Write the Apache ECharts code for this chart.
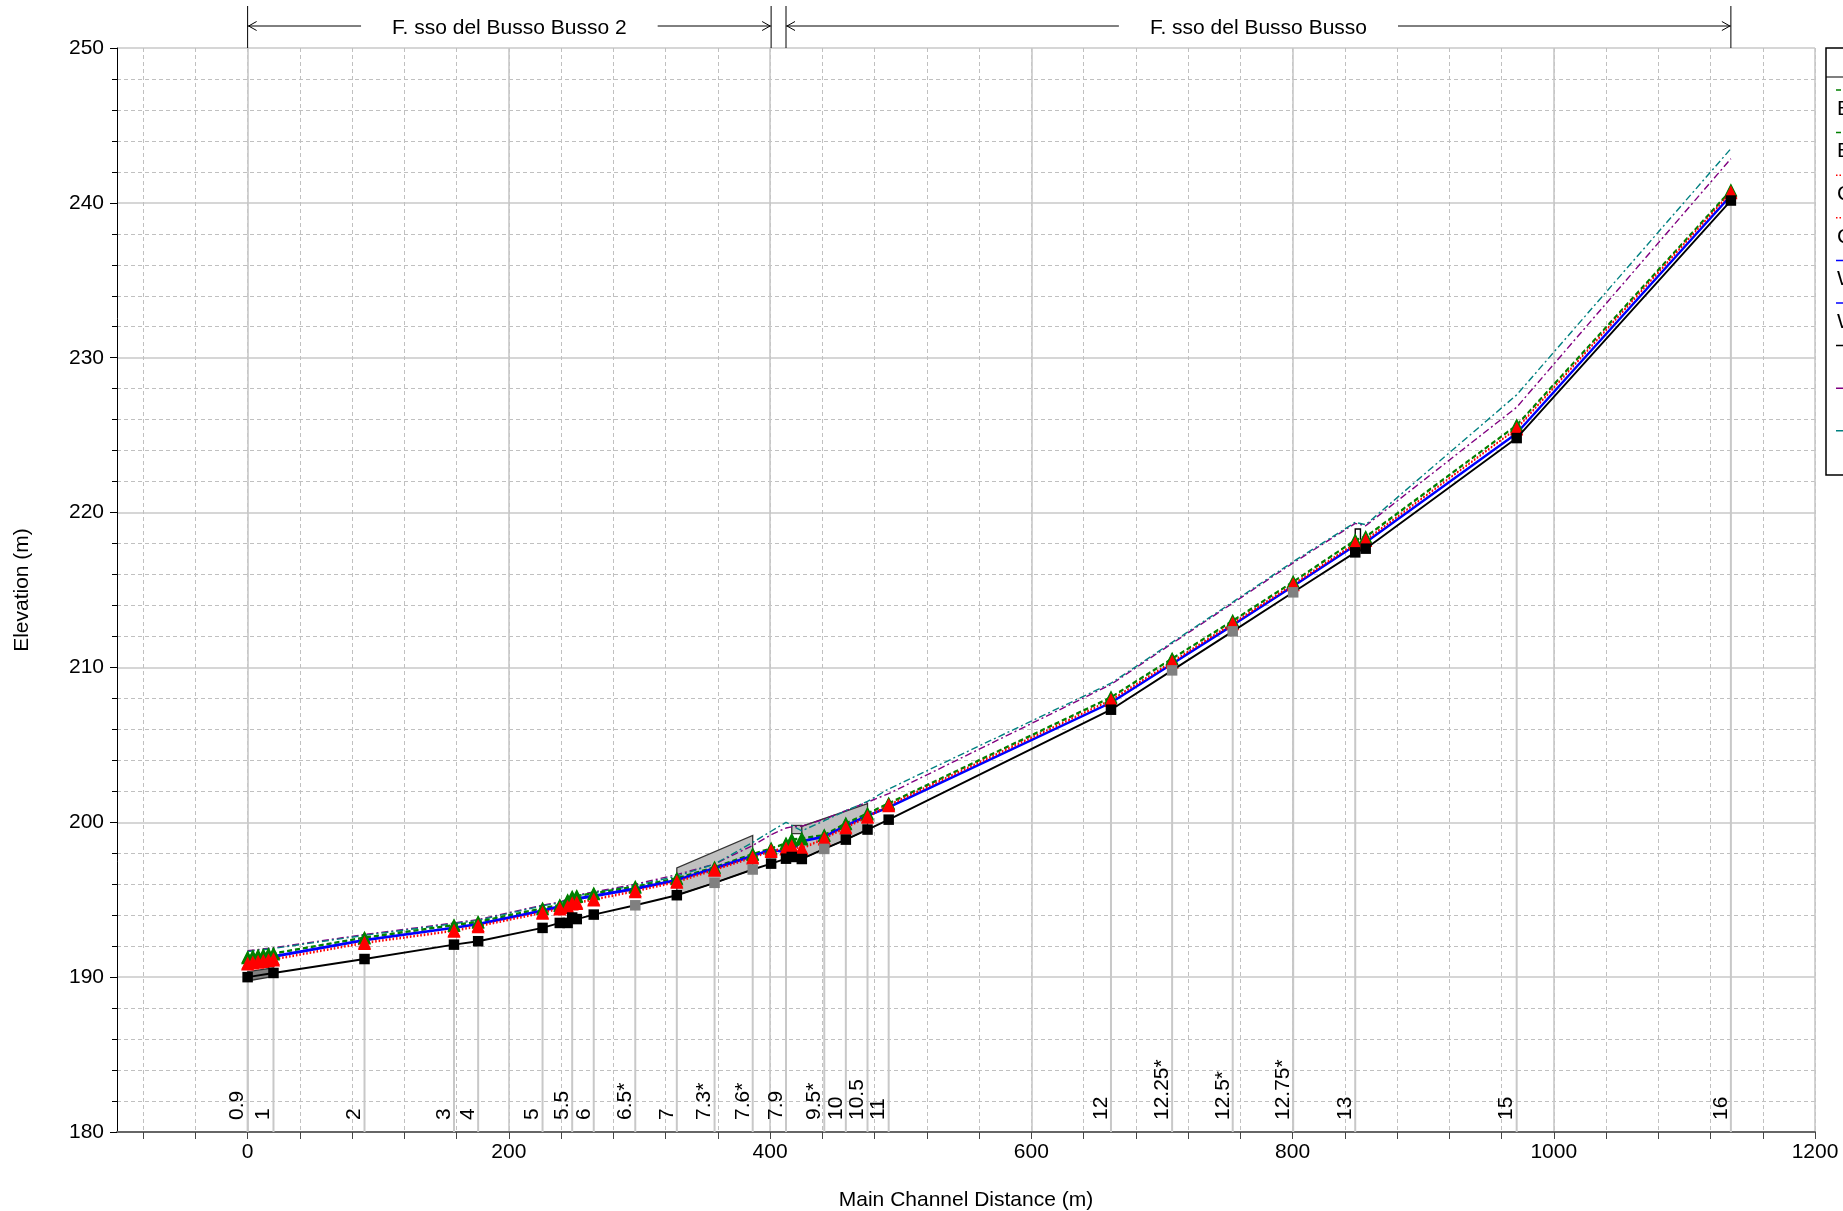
<!DOCTYPE html>
<html>
<head>
<meta charset="utf-8">
<title>Profilo longitudinale</title>
<script src="https://cdn.jsdelivr.net/npm/echarts@6/dist/echarts.min.js"></script>
<style>
  html, body { margin: 0; padding: 0; background: #ffffff; }
  #chart { width: 1843px; height: 1211px; }
</style>
</head>
<body>
<div id="chart"></div>
<script>
// ---- Axis ticks ----
const xMajorTicks = [0, 200, 400, 600, 800, 1000, 1200];
const xMinorTicks = [-80, -40, 0, 40, 80, 120, 160, 200, 240, 280, 320, 360, 400, 440, 480, 520, 560, 600,
  640, 680, 720, 760, 800, 840, 880, 920, 960, 1000, 1040, 1080, 1120, 1160, 1200];

// ---- River stations (main channel distance, m) ----
const stationDist = [0, 4, 8, 12, 16, 19.8, 89.5, 158, 176.5, 225.8, 239, 245, 248.5, 252, 265, 296.8,
  328.6, 357.5, 386.7, 400.8, 412.2, 416.6, 424.3, 441.5, 458, 474.6, 490.8, 661, 707.8, 754.2,
  800.5, 848, 856, 971.6, 1135.6];
const stationLabel = ['0.9', '', '', '', '', '1', '2', '3', '4', '5', '', '', '5.5', '', '6', '6.5*',
  '7', '7.3*', '7.6*', '', '7.9', '', '', '9.5*', '10', '10.5', '11', '12', '12.25*', '12.5*',
  '12.75*', '13', '', '15', '16'];

// ---- Elevations (m) ----
const groundElev = [190.0, null, null, null, null, 190.27, 191.17, 192.1, 192.32, 193.18, 193.5, 193.5,
  193.85, 193.75, 194.04, 194.64, 195.29, 196.09, 196.95, 197.33, 197.65, 197.76, 197.63, 198.28,
  198.88, 199.53, 200.17, 207.27, 209.81, 212.33, 214.85, 217.43, 217.67, 224.81, 240.15];
const egTr200 = [191.31, 191.38, 191.43, 191.47, 191.52, 191.56, 192.58, 193.39, 193.6, 194.47, 194.68,
  195.0, 195.22, 195.27, 195.44, 195.87, 196.41, 197.12, 197.98, 198.34, 198.67, 198.92, 198.99,
  199.2, 199.96, 200.6, 201.25, 208.1, 210.6, 213.04, 215.56, 218.25, 218.46, 225.67, 240.84];
const egTr30 = [191.25, 191.32, 191.37, 191.41, 191.46, 191.5, 192.52, 193.33, 193.54, 194.41, 194.62,
  194.93, 195.15, 195.2, 195.38, 195.81, 196.35, 197.06, 197.92, 198.28, 198.6, 198.85, 198.92,
  199.14, 199.9, 200.54, 201.19, 208.04, 210.54, 212.98, 215.5, 218.19, 218.4, 225.61, 240.78];
const critTr200 = [190.92, 190.98, 191.03, 191.08, 191.13, 191.18, 192.25, 193.03, 193.33, 194.19, 194.47,
  194.57, 194.8, 194.83, 195.05, 195.59, 196.19, 196.97, 197.76, 198.19, 198.34, 198.49, 198.34,
  198.99, 199.7, 200.39, 201.14, 207.92, 210.39, 212.87, 215.39, 218.03, 218.25, 225.45, 240.7];
const critTr30 = [190.85, 190.91, 190.96, 191.01, 191.06, 191.11, 192.18, 192.96, 193.26, 194.12, 194.4,
  194.5, 194.73, 194.76, 194.98, 195.52, 196.12, 196.9, 197.69, 198.12, 198.27, 198.42, 198.27,
  198.92, 199.63, 200.32, 201.07, 207.87, 210.34, 212.82, 215.34, 217.98, 218.2, 225.4, 240.65];
const wsTr200 = [191.05, 191.2, 191.26, 191.3, 191.34, 191.38, 192.42, 193.22, 193.45, 194.33, 194.6,
  194.82, 195.05, 195.1, 195.28, 195.74, 196.3, 197.05, 197.86, 198.25, 198.1, 198.2, 198.8, 199.1,
  199.8, 200.45, 201.0, 207.75, 210.25, 212.75, 215.27, 217.9, 218.1, 225.14, 240.5];
const wsTr30 = [190.62, 191.12, 191.18, 191.22, 191.26, 191.3, 192.36, 193.16, 193.39, 194.27, 194.5,
  194.74, 194.98, 195.02, 195.2, 195.67, 196.24, 196.99, 197.8, 198.18, 198.05, 198.15, 198.75,
  199.05, 199.75, 200.4, 200.95, 207.7, 210.2, 212.7, 215.22, 217.85, 218.05, 225.09, 240.45];
const lobElev = [191.7, null, null, null, null, 191.9, 192.75, 193.5, 193.72, 194.65, 194.85, 195.05,
  195.2, 195.3, 195.5, 196.0, 196.62, 197.3, 198.5, 199.2, 199.63, 199.7, 199.75, 200.2, 200.75,
  201.3, 201.85, 208.9, 211.55, 214.15, 216.75, 219.3, 219.15, 226.8, 242.85];
const robElev = [191.65, null, null, null, null, 191.85, 192.7, 193.45, 193.67, 194.6, 194.8, 195.0,
  195.15, 195.25, 195.45, 195.92, 196.52, 197.3, 198.7, 199.42, 200.0, 199.8, 199.45, 200.1, 200.75,
  201.35, 202.15, 208.98, 211.62, 214.22, 216.83, 219.37, 219.22, 227.6, 243.5];

// ---- Culverts / bridge decks: outline vertices [distance, elevation] ----
const culvertPolygons = [
  [[0, 189.75], [0, 190.35], [19.8, 190.6], [19.8, 190.05]],
  [[328.6, 195.29], [328.6, 197.05], [386.7, 199.15], [386.7, 196.95], [357.5, 196.09]],
  [[416.6, 199.27], [416.6, 199.8], [424.3, 199.8], [424.3, 199.27]],
  [[424.3, 197.63], [424.3, 199.74], [474.6, 201.2], [474.6, 199.53], [458, 198.88], [441.5, 198.28]]
];
const structureLines = [
  [[248.5, 193.85], [248.5, 194.6]],
  [[848, 218.25], [848, 218.94], [852, 218.94], [852, 218.25]]
];

// ---- Reaches ----
const reachName = ['F. sso del Busso Busso 2', 'F. sso del Busso Busso'];
const reachFrom = [0, 412.2];
const reachTo = [400.8, 1135.6];

// ---- Layout / style ----
const Y_MIN = 180, Y_MAX = 250;
const FONT_FAMILY = '"Liberation Sans", Arial, Helvetica, sans-serif';
const culvertFills = ['#808080', '#c0c0c0', '#c0c0c0', '#c0c0c0'];
const GRID = { left: 117, top: 48, width: 1698, height: 1084 };

function toPoints(values) {
  const out = [];
  stationDist.forEach((d, i) => { if (values[i] != null) out.push([d, values[i]]); });
  return out;
}

const groundData = [];
stationDist.forEach((d, i) => {
  if (groundElev[i] == null) return;
  const interpolated = stationLabel[i].endsWith('*');
  groundData.push({ value: [d, groundElev[i]], itemStyle: { color: interpolated ? '#808080' : '#000000' } });
});

const stationMarkData = [];
const stationMarkText = [];
stationDist.forEach((d, i) => {
  if (stationLabel[i]) { stationMarkData.push([d, groundElev[i]]); stationMarkText.push(stationLabel[i]); }
});

const measureCtx = document.createElement('canvas').getContext('2d');
function textWidth(str, size) {
  measureCtx.font = size + 'px ' + FONT_FAMILY;
  return measureCtx.measureText(str).width;
}

// Profile series definitions (drawing order)
const profileSeries = [
  { name: 'LOB', data: lobElev, color: '#800080', type: [7, 3, 2, 3], width: 1.4, symbol: 'none' },
  { name: 'ROB', data: robElev, color: '#008080', type: [7, 3, 2, 3], width: 1.4, symbol: 'none' },
  { name: 'EG  Tr30', data: egTr30, color: '#008000', type: [5, 3], width: 1.5, symbol: 'triangle' },
  { name: 'EG  Tr200', data: egTr200, color: '#008000', type: [5, 3], width: 1.5, symbol: 'triangle' },
  { name: 'WS  Tr30', data: wsTr30, color: '#0000ff', type: 'solid', width: 1.8, symbol: 'none' },
  { name: 'WS  Tr200', data: wsTr200, color: '#0000ff', type: 'solid', width: 1.8, symbol: 'none' },
  { name: 'Crit  Tr30', data: critTr30, color: '#ff0000', type: [1.5, 2], width: 1.5, symbol: 'triangle' },
  { name: 'Crit  Tr200', data: critTr200, color: '#ff0000', type: [1.5, 2], width: 1.5, symbol: 'triangle' }
];

const series = [];

// Cross-section markers and river station labels
series.push({
  type: 'custom', name: 'River Sta', coordinateSystem: 'cartesian2d', silent: true, z: 1,
  data: stationMarkData, encode: { x: 0, y: 1 },
  renderItem(params, api) {
    const base = api.coord([api.value(0), Y_MIN]);
    const top = api.coord([api.value(0), api.value(1)]);
    return {
      type: 'group', children: [
        { type: 'line', shape: { x1: base[0], y1: base[1], x2: top[0], y2: top[1] },
          style: { stroke: '#c8c8c8', lineWidth: 2 } },
        { type: 'text', x: base[0] - 10, y: base[1] - 12, rotation: Math.PI / 2,
          style: { text: stationMarkText[params.dataIndex], fontSize: 21, fontFamily: FONT_FAMILY,
                   fill: '#000', align: 'left', verticalAlign: 'middle' } }
      ]
    };
  }
});

// Culvert / bridge deck shapes
series.push({
  type: 'custom', name: 'Structures', coordinateSystem: 'cartesian2d', silent: true, z: 2,
  data: culvertPolygons.map(p => p[0]), encode: { x: 0, y: 1 },
  renderItem(params, api) {
    const pts = culvertPolygons[params.dataIndex].map(p => api.coord(p));
    return { type: 'polygon', shape: { points: pts },
             style: { fill: culvertFills[params.dataIndex], stroke: '#333333', lineWidth: 1.3 } };
  }
});
series.push({
  type: 'custom', name: 'Structure lines', coordinateSystem: 'cartesian2d', silent: true, z: 2,
  data: structureLines.map(p => p[0]), encode: { x: 0, y: 1 },
  renderItem(params, api) {
    const pts = structureLines[params.dataIndex].map(p => api.coord(p));
    return { type: 'polyline', shape: { points: pts },
             style: { fill: null, stroke: '#000000', lineWidth: 1.4 } };
  }
});

profileSeries.forEach(s => {
  series.push({
    type: 'line', name: s.name, data: toPoints(s.data), z: 3,
    symbol: s.symbol, symbolSize: 13, showSymbol: s.symbol !== 'none',
    itemStyle: { color: s.color }, lineStyle: { color: s.color, width: s.width, type: s.type },
    animation: false, silent: true
  });
});

series.push({
  type: 'line', name: 'Ground', data: groundData, z: 4,
  symbol: 'rect', symbolSize: 10.5, showSymbol: true,
  itemStyle: { color: '#000000' }, lineStyle: { color: '#000000', width: 1.9, type: 'solid' },
  animation: false, silent: true
});

// Reach extents above the plot
series.push({
  type: 'custom', name: 'Reaches', coordinateSystem: 'cartesian2d', silent: true, clip: false, z: 5,
  data: reachName.map((n, i) => [reachFrom[i], reachTo[i], Y_MAX]), encode: { x: [0, 1], y: 2 },
  renderItem(params, api) {
    const a = api.coord([api.value(0), Y_MAX]);
    const b = api.coord([api.value(1), Y_MAX]);
    const yTop = a[1], yArrow = yTop - 22, yBar = yTop - 42;
    const name = reachName[params.dataIndex];
    const w = textWidth(name, 21);
    const cx = (a[0] + b[0]) / 2, gap = 31;
    const seg = (x1, y1, x2, y2) => ({ type: 'line', shape: { x1, y1, x2, y2 }, style: { stroke: '#000', lineWidth: 1 } });
    return {
      type: 'group', children: [
        seg(a[0], yBar, a[0], yTop), seg(b[0], yBar, b[0], yTop),
        seg(a[0], yArrow, cx - w / 2 - gap, yArrow), seg(cx + w / 2 + gap, yArrow, b[0], yArrow),
        { type: 'polyline', shape: { points: [[a[0] + 9, yArrow - 4.5], [a[0] + 1, yArrow], [a[0] + 9, yArrow + 4.5]] },
          style: { fill: null, stroke: '#000', lineWidth: 1 } },
        { type: 'polyline', shape: { points: [[b[0] - 9, yArrow - 4.5], [b[0] - 1, yArrow], [b[0] - 9, yArrow + 4.5]] },
          style: { fill: null, stroke: '#000', lineWidth: 1 } },
        { type: 'text', x: cx, y: yArrow + 2,
          style: { text: name, fontSize: 21, fontFamily: FONT_FAMILY, fill: '#000', align: 'center', verticalAlign: 'middle' } }
      ]
    };
  }
});

// Legend box (right edge)
const legendItems = [
  { name: 'EG  Tr200', color: '#008000', dash: [5, 3] },
  { name: 'EG  Tr30', color: '#008000', dash: [5, 3] },
  { name: 'Crit  Tr200', color: '#ff0000', dash: [1.5, 2] },
  { name: 'Crit  Tr30', color: '#ff0000', dash: [1.5, 2] },
  { name: 'WS  Tr200', color: '#0000ff', dash: null },
  { name: 'WS  Tr30', color: '#0000ff', dash: null },
  { name: 'Ground', color: '#000000', dash: null, inline: true },
  { name: 'LOB', color: '#800080', dash: [7, 3, 2, 3], inline: true },
  { name: 'ROB', color: '#008080', dash: [7, 3, 2, 3], inline: true }
];
const legendX = 1826, legendTop = 48, legendBottom = 475;
const graphic = [
  { type: 'rect', shape: { x: legendX, y: legendTop, width: 320, height: legendBottom - legendTop },
    style: { fill: '#fff', stroke: '#000', lineWidth: 1.5 }, z: 10 },
  { type: 'line', shape: { x1: legendX, y1: 77, x2: legendX + 320, y2: 77 },
    style: { stroke: '#000', lineWidth: 1.2 }, z: 10 },
  { type: 'text', x: legendX + 160, y: 62, style: { text: 'Legend', fontSize: 21, fontFamily: FONT_FAMILY,
    fill: '#000', align: 'center', verticalAlign: 'middle' }, z: 11 }
];
legendItems.forEach((it, i) => {
  const y = 90 + 42.6 * i;
  graphic.push({ type: 'line', shape: { x1: legendX + 10, y1: y, x2: legendX + 80, y2: y },
    style: { stroke: it.color, lineWidth: 1.5, lineDash: it.dash }, z: 11 });
  graphic.push({ type: 'text',
    x: it.inline ? legendX + 90 : legendX + 11, y: it.inline ? y : y + 19,
    style: { text: it.name, fontSize: 21, fontFamily: FONT_FAMILY, fill: '#000', align: 'left', verticalAlign: 'middle' }, z: 11 });
});

const option = {
  animation: false,
  backgroundColor: '#ffffff',
  grid: Object.assign({ containLabel: false, outerBoundsMode: 'none' }, GRID),
  xAxis: [{
    type: 'value', min: -100, max: 1200, position: 'bottom',
    name: 'Main Channel Distance (m)', nameLocation: 'middle', nameGap: 58,
    nameTextStyle: { fontSize: 21, fontFamily: FONT_FAMILY, color: '#000' },
    axisLine: { show: true, onZero: false, lineStyle: { color: '#666666', width: 2 } },
    axisTick: { show: true, inside: false, length: 7, customValues: xMinorTicks, lineStyle: { color: '#444', width: 1 } },
    axisLabel: { customValues: xMajorTicks, formatter: v => String(v), fontSize: 21, fontFamily: FONT_FAMILY, color: '#000', margin: 10 },
    splitLine: { show: true, lineStyle: { color: '#c0c0c0', width: 1, type: [4, 3] } }
  }, {
    type: 'value', min: -100, max: 1200, position: 'top',
    axisLine: { show: false }, axisLabel: { show: false, customValues: xMajorTicks },
    axisTick: { show: false, customValues: xMajorTicks },
    splitLine: { show: true, lineStyle: { color: '#c8c8c8', width: 1.6 } }
  }],
  yAxis: {
    type: 'value', min: Y_MIN, max: Y_MAX, interval: 10,
    name: 'Elevation (m)', nameLocation: 'middle', nameGap: 84, nameRotate: 90,
    nameTextStyle: { fontSize: 21, fontFamily: FONT_FAMILY, color: '#000' },
    axisLine: { show: true, onZero: false, lineStyle: { color: '#000', width: 1 } },
    axisTick: { show: true, length: 7, lineStyle: { color: '#000', width: 1 } },
    minorTick: { show: true, splitNumber: 5, length: 5, lineStyle: { color: '#000', width: 1 } },
    axisLabel: { fontSize: 21, fontFamily: FONT_FAMILY, color: '#000', margin: 13 },
    splitLine: { show: true, lineStyle: { color: '#c8c8c8', width: 1.6 } },
    minorSplitLine: { show: true, lineStyle: { color: '#c0c0c0', width: 1, type: [4, 3] } }
  },
  series: series,
  graphic: graphic
};

const chart = echarts.init(document.getElementById('chart'), null, { renderer: 'canvas', width: 1843, height: 1211 });
chart.setOption(option);
</script>
</body>
</html>
